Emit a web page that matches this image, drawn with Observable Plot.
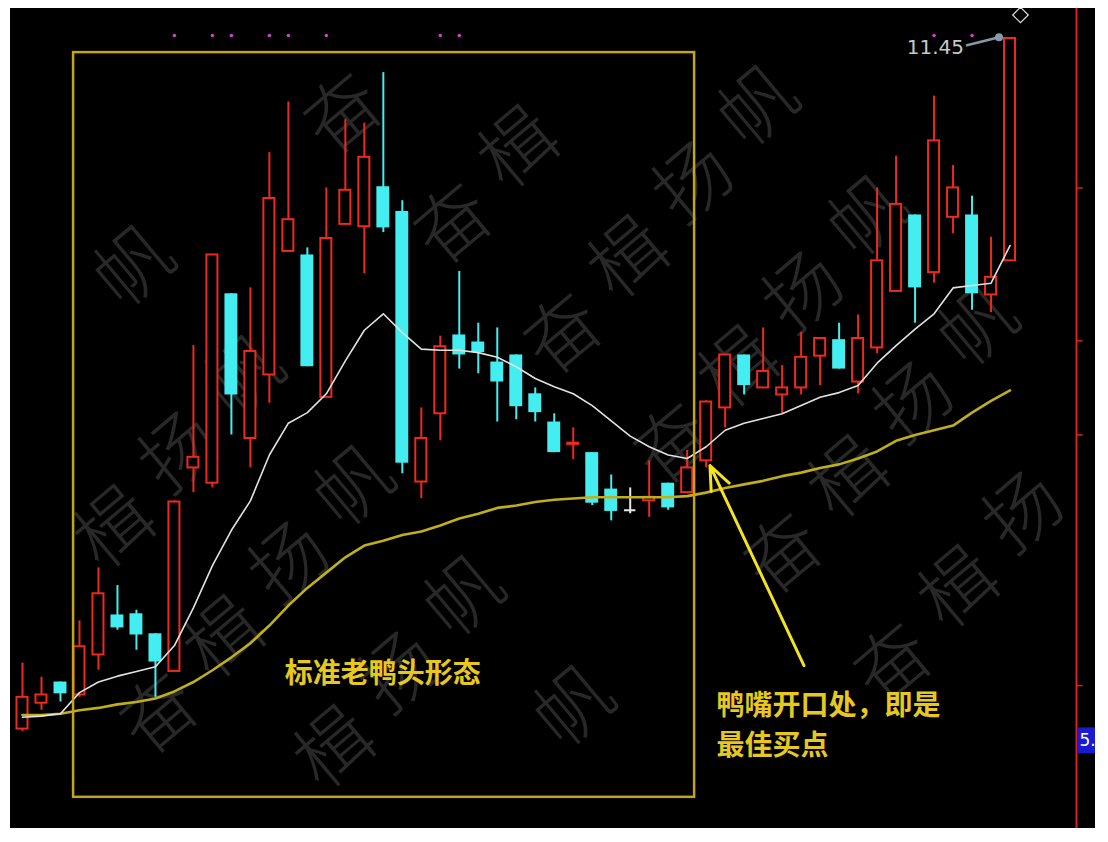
<!DOCTYPE html>
<html>
<head>
<meta charset="utf-8">
<script src="https://cdn.jsdelivr.net/npm/d3@7"></script>
<script src="https://cdn.jsdelivr.net/npm/@observablehq/plot@0.6"></script>
<style>
  html, body { margin: 0; padding: 0; background: #ffffff; }
  #chart { position: absolute; left: 10px; top: 8px; width: 1085px; height: 820px; background: #000; overflow: hidden; }
</style>
</head>
<body>
<div id="chart"></div>
<script>
// ---- Candle data (index 0..52) ----
const opens  = [5.58,5.80,5.98,5.87,6.21,6.55,6.56,6.39,6.07,7.80, 7.67,9.28,8.05,8.59,9.64,9.61,8.40,9.87,9.85,10.19, 9.98,7.68,8.26,8.93,8.87,8.70,8.76,8.43,8.19,8.00, 7.93,7.62,7.44,7.52,7.67,7.59,7.86,8.31,8.76,8.48, 8.42,8.48,8.75,8.89,8.53,8.82,9.30,9.95,9.46,9.93, 9.95,9.27,9.56];
const highs  = [6.14,6.02,5.98,6.50,6.95,6.80,6.59,6.39,7.52,8.84, 9.61,9.28,9.33,10.48,10.91,9.67,10.18,10.76,10.73,11.16, 10.07,8.31,8.92,9.47,9.03,8.99,8.76,8.48,8.26,8.14, 7.93,7.74,7.63,7.86,7.67,7.95,8.37,8.76,8.76,8.99, 8.67,8.95,8.90,9.03,9.10,10.18,10.45,9.95,10.96,10.37, 10.11,9.76,11.45];
const lows   = [5.56,5.74,5.81,5.85,6.08,6.42,6.25,5.85,6.07,7.59, 7.63,8.08,7.80,8.35,9.64,8.66,8.40,9.87,9.45,9.80, 7.75,7.54,8.03,8.64,8.60,8.19,8.21,8.19,7.93,7.87, 7.48,7.35,7.41,7.38,7.44,7.59,7.80,8.14,8.42,8.48, 8.26,8.42,8.50,8.64,8.43,8.77,9.30,9.03,9.37,9.79, 9.14,9.12,9.56];
const closes = [5.85,5.87,5.88,6.28,6.73,6.44,6.38,6.15,7.51,7.89, 9.61,8.42,8.79,10.09,9.91,8.66,9.75,10.16,10.44,9.84, 7.84,8.05,8.83,8.76,8.78,8.53,8.32,8.27,7.93,8.01, 7.50,7.43,7.44,7.55,7.46,7.80,8.36,8.76,8.50,8.62, 8.48,8.74,8.90,8.64,8.90,9.56,10.04,9.33,10.58,10.18, 9.28,9.42,11.45];

// ---- Moving averages ----
const maShort = [5.68,5.69,5.71,5.89,5.98,6.03,6.07,6.11,6.29,6.61, 6.97,7.27,7.52,7.91,8.18,8.27,8.43,8.71,8.97,9.11, 8.95,8.81,8.80,8.80,8.78,8.74,8.66,8.56,8.49,8.43, 8.33,8.20,8.07,7.98,7.91,7.88,7.98,8.12,8.18,8.22, 8.26,8.33,8.40,8.44,8.50,8.69,8.84,8.98,9.11,9.33, 9.35,9.37,9.69];
const maLong  = [5.70,5.70,5.71,5.74,5.76,5.79,5.81,5.84,5.90,5.98, 6.08,6.19,6.31,6.46,6.63,6.78,6.91,7.04,7.14,7.18, 7.23,7.26,7.31,7.37,7.41,7.46,7.48,7.51,7.53,7.54, 7.55,7.55,7.55,7.55,7.55,7.56,7.59,7.63,7.66,7.69, 7.73,7.76,7.80,7.83,7.88,7.94,8.03,8.08,8.12,8.16, 8.27,8.37,8.46];

// ---- Signals / axis / annotations ----
const signalIdx = [8,10,11,13,14,16,22,23,48,50];
const axisTicks = [10.18, 8.88, 8.08, 5.95];
const lastLabel = ["11.45"];
const sideLabel = ["5."];
const sideLabelPrice = [5.48];
const boxX = [2.69, 35.39];
const boxY = [5.00, 11.33];
const arrowFrom = [41.15, 6.12];
const arrowTo = [36.2, 7.82];
const patternNote = ["标准老鸭头形态"];
const patternNoteXY = [18.97, 6.05];
const buyNote = ["鸭嘴开口处，即是", "最佳买点"];
const buyNoteX = [36.55, 36.55];
const buyNoteY = [5.78, 5.44];
const pointerX = [49.68, 51.42];
const pointerY = [11.39, 11.46];
const diamondPos = [52.55, 11.65];
const axisX = 55.5;

const RED = "#ee2a1c", CYAN = "#44eef0", GOLD = "#e6c81e";

const candles = opens.map((o, i) => ({
  i, open: o, high: highs[i], low: lows[i], close: closes[i],
  color: closes[i] > o ? RED : closes[i] < o ? CYAN : "#e8e8e8"
}));
const upC = candles.filter(d => d.close > d.open);
const downC = candles.filter(d => d.close < d.open);
const flatC = candles.filter(d => d.close === d.open);
const shortLine = maShort.map((v, i) => ({i, v}));
const longLine = maLong.map((v, i) => ({i, v}));
const buyRows = buyNote.map((t, k) => ({t, x: buyNoteX[k], y: buyNoteY[k]}));

const chart = Plot.plot({
  width: 1085,
  height: 820,
  marginLeft: 12,
  marginRight: 19,
  marginTop: 0,
  marginBottom: 0,
  style: {background: "#000", overflow: "hidden"},
  x: {domain: [0, axisX], axis: null},
  y: {domain: [4.735, 11.705], axis: null},
  marks: [
    // wicks
    Plot.ruleX(candles, {x: "i", y1: "low", y2: "high", stroke: "color", strokeWidth: 2}),
    // hollow up bodies
    Plot.rect(upC, {x1: d => d.i - 0.29, x2: d => d.i + 0.29, y1: "open", y2: "close", fill: "#000", stroke: RED, strokeWidth: 2}),
    // filled down bodies
    Plot.rect(downC, {x1: d => d.i - 0.34, x2: d => d.i + 0.34, y1: "open", y2: "close", fill: CYAN}),
    // doji
    Plot.ruleY(flatC, {x1: d => d.i - 0.3, x2: d => d.i + 0.3, y: "close", stroke: "#e8e8e8", strokeWidth: 2}),
    // moving averages
    Plot.line(longLine, {x: "i", y: "v", stroke: "#bfae1e", strokeWidth: 2.6}),
    Plot.line(shortLine, {x: "i", y: "v", stroke: "#e2e2e2", strokeWidth: 1.6}),
    // pattern box
    Plot.rect([{}], {x1: boxX[0], x2: boxX[1], y1: boxY[0], y2: boxY[1], fill: "none", stroke: "#c4a41c", strokeWidth: 2.5}),
    // arrow
    Plot.arrow([{}], {x1: arrowFrom[0], y1: arrowFrom[1], x2: arrowTo[0], y2: arrowTo[1], stroke: "#f2e41e", strokeWidth: 3, headLength: 13, headAngle: 45}),
    // notes
    Plot.text(patternNote, {x: patternNoteXY[0], y: patternNoteXY[1], text: d => d, textAnchor: "middle", fill: GOLD, fontSize: 28, fontWeight: "bold", fontFamily: "Noto Sans CJK SC"}),
    Plot.text(buyRows, {x: "x", y: "y", text: "t", textAnchor: "start", fill: GOLD, fontSize: 28, fontWeight: "bold", fontFamily: "Noto Sans CJK SC"}),
    // signal dots
    Plot.dot(signalIdx, {x: d => d, frameAnchor: "top", dy: 27, r: 1.8, fill: "#d040c8", stroke: "none"}),
    // right axis
    Plot.ruleX([axisX], {stroke: "#e0201c", strokeWidth: 2}),
    Plot.ruleY(axisTicks, {y: d => d, x1: axisX, x2: axisX + 0.35, stroke: "#e0201c", strokeWidth: 1.5}),
    Plot.rect(sideLabelPrice, {x1: axisX + 0.05, x2: axisX + 1.2, y1: d => d - 0.11, y2: d => d + 0.11, fill: "#1a1ad0"}),
    Plot.text(sideLabelPrice, {x: axisX, y: d => d, text: (d, k) => sideLabel[k], textAnchor: "start", dx: 3, fill: "#ffffff", fontSize: 17, fontFamily: "DejaVu Sans"}),
    // last price label + pointer
    Plot.link([{}], {x1: pointerX[0], y1: pointerY[0], x2: pointerX[1], y2: pointerY[1], stroke: "#8a96a4", strokeWidth: 2.5}),
    Plot.dot([{}], {x: pointerX[1], y: pointerY[1], r: 4, fill: "#8a9aae"}),
    Plot.text(lastLabel, {x: 52, y: d => +d, text: d => d, textAnchor: "end", dx: -46, dy: 9, fill: "#c8c8c8", fontSize: 20, fontFamily: "DejaVu Sans"}),
    Plot.dot([{}], {x: diamondPos[0], y: diamondPos[1], symbol: "diamond2", r: 7, stroke: "#dddddd", fill: "none", strokeWidth: 1.2})
  ]
});
document.getElementById("chart").appendChild(chart);

// ---- Faint repeated watermark (decorative background) ----
const wm = "奋楫扬帆";
const g = d3.select(chart).insert("g", ":first-child").attr("class", "watermark");
const base = [439, 211], u = [110, 110], v = [404, -380], s = [65, -76];
for (let a = -6; a <= 10; a++) {
  for (let b = -3; b <= 3; b++) {
    for (let k = 0; k < 4; k++) {
      const x = base[0] + a * u[0] + b * v[0] + k * s[0];
      const y = base[1] + a * u[1] + b * v[1] + k * s[1];
      if (x < 60 || x > 1010 || y < 62 || y > 758) continue;
      g.append("text")
        .attr("transform", `translate(${x},${y}) rotate(-40)`)
        .attr("text-anchor", "middle")
        .attr("dominant-baseline", "central")
        .attr("font-family", "Noto Sans CJK SC")
        .attr("font-weight", 300)
        .attr("font-size", 76)
        .attr("fill", "#282828")
        .text(wm[k]);
    }
  }
}
</script>
</body>
</html>
